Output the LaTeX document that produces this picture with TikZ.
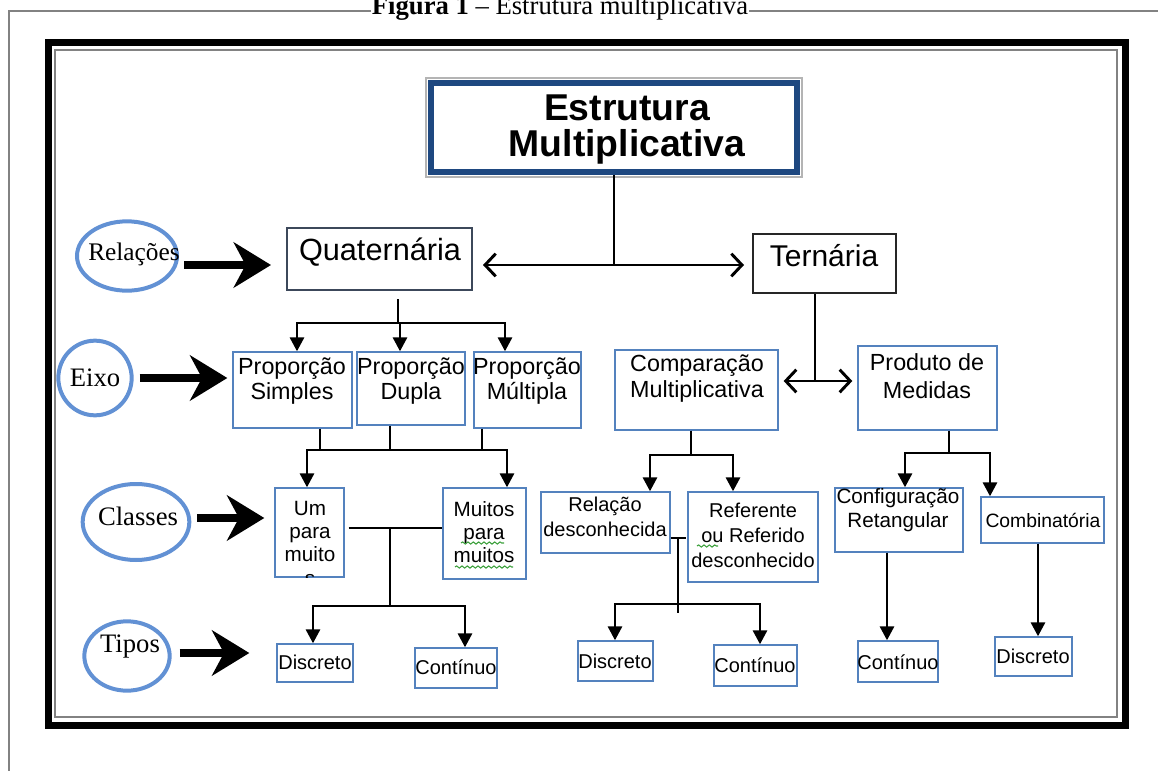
\documentclass[tikz,border=0pt]{standalone}
\usepackage{fontspec}
\setmainfont{Liberation Serif}
\setsansfont{Liberation Sans}
\usetikzlibrary{arrows.meta,shapes.geometric,fit,calc,decorations.pathmorphing}
\definecolor{boxblue}{RGB}{84,130,190}
\definecolor{ellblue}{RGB}{98,145,212}
\definecolor{navy}{RGB}{30,72,128}
\definecolor{quatcol}{RGB}{60,72,90}
\definecolor{framegray}{RGB}{130,130,130}
\definecolor{spellgreen}{RGB}{60,160,60}
\tikzset{
  conn/.style={line width=2.2pt},
  arr/.style={conn,-{Triangle[length=10.5pt,width=10.5pt]}},
  arrs/.style={conn,{Triangle[length=10.5pt,width=10.5pt]}-{Triangle[length=10.5pt,width=10.5pt]}},
  barb/.style={conn,{Straight Barb[length=8pt,width=17pt]}-{Straight Barb[length=8pt,width=17pt]}},
  bigarr/.style={line width=6.5pt,-{Stealth[length=28pt,width=34pt,inset=9pt]}},
  box/.style={draw=boxblue,line width=1pt,inner sep=0pt},
  cat/.style={ellipse,draw=ellblue,line width=3pt,inner sep=0pt},
  cattxt/.style={font=\fontsize{20}{24}\selectfont,inner sep=0pt},
  tx/.style 2 args={font=\sffamily\fontsize{#1}{#2}\selectfont,align=center,inner sep=0pt},
  spell/.style={spellgreen,line width=0.8pt,decorate,decoration={snake,segment length=4pt,amplitude=0.8pt}}
}
\begin{document}
\begin{tikzpicture}[x=0.75pt,y=-0.75pt]
\useasboundingbox (0,0) rectangle (1158,771);
\clip (0,0) rectangle (1158,771);
% page frame and caption
\draw[framegray,line width=1.2pt] (9,771) -- (9,11) -- (1158,11);
\node[fill=white,inner sep=1pt,anchor=base,font=\fontsize{20}{20}\selectfont] (fig) at (560,14) {\textbf{Figura 1} -- Estrutura multiplicativa};
\draw[line width=5.25pt] (48.5,42.5) rectangle (1125,725);
\draw[framegray,line width=1.2pt] (55,50) rectangle (1117,717);

% title
\draw[framegray!60,line width=0.8pt] (426,78) rectangle (802,177);
\node[draw=navy,line width=4.5pt,inner sep=0pt,fit={(431,83) (797,172)}] (title) {};
\node[font=\sffamily\bfseries\fontsize{28}{27}\selectfont,align=center] (titleT) at (627,130) {Estrutura\\Multiplicativa};

% left labels
\node[cat,minimum width=75pt,minimum height=52pt] (rel) at (127,256) {};
\node[cattxt,font=\fontsize{19}{19}\selectfont] (relT) at (134,254) {Relações};
\node[cat,minimum width=55pt,minimum height=56pt] (eixo) at (95,378) {};
\node[cattxt] (eixoT) at (95,378) {Eixo};
\node[cat,minimum width=80pt,minimum height=57pt] (cls) at (136,522) {};
\node[cattxt] (clsT) at (138,516) {Classes};
\node[cat,minimum width=64pt,minimum height=52pt] (tip) at (127,656) {};
\node[cattxt] (tipT) at (130,647) {Tipos};

% boxes
\node[box,draw=quatcol,line width=1.5pt,fit={(287,228) (472,290)}] (quat) {};
\node[box,draw=black!85,line width=1.5pt,fit={(753,234) (896,293)}] (tern) {};
\node[box,fit={(233,352) (352,428)}] (ps) {};
\node[box,fit={(357,352) (465,425)}] (pd) {};
\node[box,fit={(474,352) (581,428)}] (pm) {};
\node[box,fit={(615,350) (778,430)}] (cm) {};
\node[box,fit={(858,346) (997,430)}] (pmed) {};
\node[box,fit={(275,488) (344,577)}] (um) {};
\node[box,fit={(443,488) (526,579)}] (mm) {};
\node[box,fit={(541,492) (670,553)}] (rd) {};
\node[box,fit={(688,492) (818,582)}] (rr) {};
\node[box,fit={(835,488) (963,552)}] (cr) {};
\node[box,fit={(981,497) (1104,543)}] (comb) {};
\node[box,fit={(277,644) (353,682)}] (d1) {};
\node[box,fit={(415,648) (497,688)}] (c1) {};
\node[box,fit={(578,641) (653,681)}] (d2) {};
\node[box,fit={(714,645) (797,686)}] (c2) {};
\node[box,fit={(858,641) (938,682)}] (c3) {};
\node[box,fit={(995,637) (1072,676)}] (d3) {};

% box texts
\node[tx={23}{27}] (quatT) at (380,252) {Quaternária};
\node[tx={22.5}{27}] (ternT) at (824,256) {Ternária};
\node[tx={17.5}{19}] (psT) at (292,381) {Proporção\\Simples};
\node[tx={17.5}{19}] (pdT) at (411,381) {Proporção\\Dupla};
\node[tx={17.5}{19}] (pmT) at (527,381) {Proporção\\Múltipla};
\node[tx={17.5}{19.5}] (cmT) at (697,379) {Comparação\\Multiplicativa};
\node[tx={17.5}{21}] (pmedT) at (927,376) {Produto de\\Medidas};
\begin{scope}
\clip (275,488) rectangle (344,577);
\node[tx={15.5}{17.5}] (umT) at (310,543) {Um\\para\\muito\\s};
\end{scope}
\node[tx={15.5}{17.5}] (mmT) at (484,532) {Muitos\\para\\muitos};
\node[tx={15}{18.75}] (rdT) at (605,517) {Relação\\desconhecida};
\node[tx={15}{18.75}] (rrT) at (753,535) {Referente\\ou Referido\\desconhecido};
\node[tx={15.5}{18}] (crT) at (898,510) {Configuração\\Retangular};
\node[tx={14.5}{16}] (combT) at (1043,520) {Combinatória};
\node[tx={15}{18}] (d1T) at (315,662) {Discreto};
\node[tx={15}{18}] (c1T) at (456,667) {Contínuo};
\node[tx={15}{18}] (d2T) at (615,661) {Discreto};
\node[tx={15}{18}] (c2T) at (755,665) {Contínuo};
\node[tx={15}{18}] (c3T) at (898,662) {Contínuo};
\node[tx={15}{18}] (d3T) at (1033,656) {Discreto};
\draw[spell] (461,543) -- (504,543);
\draw[spell] (455,567) -- (513,567);
\draw[spell] (697,546) -- (718,546);

% big arrows
\draw[bigarr] ($(rel.east)+(5,9)$) -- ($(quat.west)+(-15,6)$);
\draw[bigarr] ($(eixo.east)+(6,0)$) -- ($(ps.west |- eixo.east)+(-5,0)$);
\draw[bigarr] ($(cls.east)+(6,-4)$) -- ($(um.west |- 0,518)+(-10,0)$);
\draw[bigarr] ($(tip.east)+(8,-3)$) -- ($(d1.west |- 0,653)+(-27,0)$);

% connectors
\coordinate (jt) at (614,265);
\draw[conn] (title.south) -- (jt);
\draw[barb] ($(quat.east |- jt)+(10,0)$) -- ($(tern.west |- jt)+(-8,0)$);
\draw[conn] (398,0 |- quat.south) ++(0,8) -- (398,323);
\draw[arrs] (297,0 |- ps.north) -- (297,323) -- (505,323) -- (505,0 |- pm.north);
\draw[arr] (400,323) -- (400,0 |- pd.north);
\foreach \x/\b in {320/ps,390/pd,482/pm}
  \draw[conn] (\x,0 |- \b.south) -- (\x,450);
\draw[arrs] (307,0 |- um.north) -- (307,450) -- (507,450) -- (507,0 |- mm.north);
\draw[conn] ($(um.east |- 0,528)+(4,0)$) -- (mm.west |- 0,528);
\draw[conn] (390,528) -- (390,606);
\draw[arrs] (313,0 |- d1.north) -- (313,606) -- (465,606) -- (465,0 |- c1.north);
\draw[conn] (815,0 |- tern.south) -- (815,381);
\draw[barb] ($(cm.east |- 0,381)+(5,0)$) -- ($(pmed.west |- 0,381)+(-5,0)$);
\draw[conn] (691,0 |- cm.south) -- (691,455);
\draw[arrs] (650,0 |- rd.north) -- (650,455) -- (733,455) -- (733,0 |- rr.north);
\draw[conn] (rd.east |- 0,538) -- (686,538);
\draw[conn] (678,538) -- (678,613);
\draw[arrs] (615,0 |- d2.north) -- (615,604) -- (760,604) -- (760,0 |- c2.north);
\draw[conn] (949,0 |- pmed.south) -- (949,453);
\draw[arrs] (905,0 |- cr.north) -- (905,453) -- (990,453) -- (990,0 |- comb.north);
\draw[arr] (887,0 |- cr.south) -- (887,0 |- c3.north);
\draw[arr] (1038,0 |- comb.south) -- (1038,0 |- d3.north);
\end{tikzpicture}
\end{document}
